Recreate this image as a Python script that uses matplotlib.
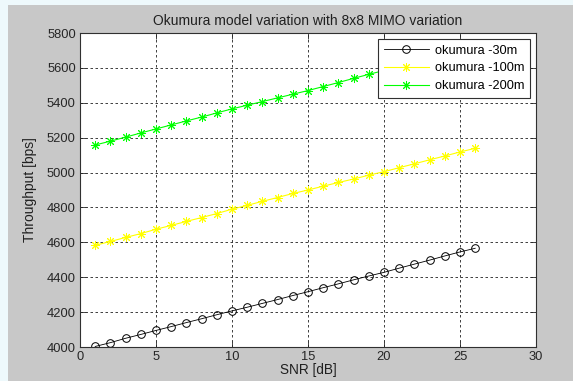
import matplotlib.pyplot as plt
from matplotlib.patches import Rectangle

snr = list(range(1, 27))

okumura_30 = [4003, 4025, 4050, 4072, 4095, 4117, 4140, 4162, 4185, 4207,
              4228, 4250, 4272, 4295, 4317, 4340, 4362, 4385, 4407, 4428,
              4452, 4475, 4498, 4522, 4545, 4566]
okumura_100 = [4583, 4605, 4628, 4650, 4675, 4697, 4720, 4742, 4765, 4790,
               4812, 4835, 4857, 4880, 4900, 4922, 4943, 4963, 4985, 5005,
               5028, 5050, 5073, 5095, 5118, 5139]
okumura_200 = [5158, 5180, 5203, 5227, 5250, 5273, 5296, 5318, 5342, 5365,
               5386, 5407, 5428, 5449, 5470, 5493, 5516, 5540, 5563, 5585,
               5608, 5631, 5654, 5677, 5700, 5722]

xticks = [0, 5, 10, 15, 20, 25, 30]
yticks = list(range(4000, 5801, 200))

plt.rcParams['font.family'] = ['Liberation Sans', 'DejaVu Sans']
plt.rcParams['font.size'] = 9

fig = plt.figure(figsize=(5.73, 3.81), dpi=100)
fig.patch.set_facecolor('#eef9fc')
# gray matlab figure window, slightly inset from the page
bg = Rectangle((8 / 573, 0), 1, 1 - 5 / 381, transform=fig.transFigure,
               facecolor='#c8c8c8', edgecolor='none', zorder=-10)
fig.add_artist(bg)

ax = fig.add_axes([80 / 573, 1 - 347 / 381, 456 / 573, 314 / 381])
ax.set_zorder(1)
ax.set_facecolor('white')

asterisk = (8, 2, 0)
ax.plot(snr, okumura_30, color='black', lw=0.6, marker='o', ms=5.5,
        mfc='none', mec='black', mew=0.7, label='okumura -30m')
ax.plot(snr, okumura_100, color='#ffff00', lw=0.8, marker=asterisk, ms=6.5,
        mew=0.7, label='okumura -100m')
ax.plot(snr, okumura_200, color='#00ff00', lw=0.8, marker=asterisk, ms=6.5,
        mew=0.7, label='okumura -200m')

ax.set_xlim(0, 30)
ax.set_ylim(4000, 5800)
ax.set_xticks(xticks)
ax.set_yticks(yticks)
ax.grid(True, color='#202020', linestyle=(0, (3, 3)), lw=0.6)
ax.tick_params(direction='in', top=True, right=True, length=4, width=0.6,
               colors='#262626', labelsize=9.3, pad=3)
for s in ax.spines.values():
    s.set_color('#303030')
    s.set_linewidth(0.8)

ax.set_title('Okumura model variation with 8x8 MIMO variation', fontsize=10,
             color='#202020', pad=6)
ax.set_xlabel('SNR [dB]', fontsize=9.8, color='#202020', labelpad=0)
ax.set_ylabel('Throughput [bps]', fontsize=10, color='#202020', labelpad=7)

leg = ax.legend(loc='upper right', fontsize=9.2, frameon=True, fancybox=False,
                borderaxespad=0.45, handlelength=3.5, labelspacing=0.45,
                borderpad=0.45, handletextpad=0.5)
leg.get_frame().set_edgecolor('#303030')
leg.get_frame().set_linewidth(0.8)
leg.get_frame().set_alpha(1)

fig.savefig('out.png', dpi=100, facecolor=fig.get_facecolor())
